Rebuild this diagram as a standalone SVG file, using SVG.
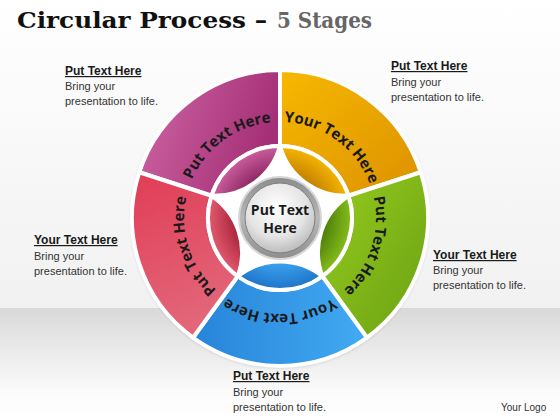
<svg xmlns="http://www.w3.org/2000/svg" width="560" height="420" viewBox="0 0 560 420">
  <defs>
    <style>
      .title { font-family: "DejaVu Serif", "Liberation Serif", serif; font-weight: bold; font-size: 23px; }
      .head { font-family: "Liberation Sans", Arial, sans-serif; font-weight: bold; font-size: 12px; fill: #1a1a1a; text-decoration: underline; }
      .body { font-family: "Liberation Sans", Arial, sans-serif; font-size: 11px; fill: #333333; }
      .lbl { font-family: "Open Sans", "Liberation Sans", sans-serif; font-weight: bold; font-size: 15px; fill: #1a1a1a; }
      .ctr { font-family: "Open Sans", "Liberation Sans", sans-serif; font-weight: bold; font-size: 14px; fill: #1a1a1a; }
      .wedge, .tab { stroke: #ffffff; stroke-width: 4; stroke-linejoin: round; }
    </style>
    <linearGradient id="bgTop" x1="0" y1="0" x2="0" y2="1">
      <stop offset="0" stop-color="#ffffff"/>
      <stop offset="1" stop-color="#f1f1f1"/>
    </linearGradient>
    <linearGradient id="bgBand" x1="0" y1="0" x2="0" y2="1">
      <stop offset="0" stop-color="#d9d9d9"/>
      <stop offset="0.75" stop-color="#fbfbfb"/>
      <stop offset="1" stop-color="#ffffff"/>
    </linearGradient>
    <linearGradient id="gMag" x1="0" y1="0" x2="1" y2="0.3">
      <stop offset="0" stop-color="#cf68a6"/>
      <stop offset="1" stop-color="#a52f76"/>
    </linearGradient>
    <linearGradient id="gYel" x1="0" y1="0" x2="1" y2="1">
      <stop offset="0" stop-color="#f7b800"/>
      <stop offset="1" stop-color="#dc9100"/>
    </linearGradient>
    <linearGradient id="gGrn" x1="0" y1="0" x2="1" y2="1">
      <stop offset="0" stop-color="#96cc1e"/>
      <stop offset="1" stop-color="#6aa012"/>
    </linearGradient>
    <linearGradient id="gBlu" x1="0" y1="0" x2="1" y2="0">
      <stop offset="0" stop-color="#2784d9"/>
      <stop offset="1" stop-color="#42aaf2"/>
    </linearGradient>
    <linearGradient id="gRed" x1="0" y1="0" x2="0.3" y2="1">
      <stop offset="0" stop-color="#e03d56"/>
      <stop offset="1" stop-color="#e36679"/>
    </linearGradient>
    <radialGradient id="tMag" gradientUnits="userSpaceOnUse" cx="280" cy="218" r="72">
      <stop offset="0.6" stop-color="#8a2560"/>
      <stop offset="1" stop-color="#cc5f9f"/>
    </radialGradient>
    <radialGradient id="tYel" gradientUnits="userSpaceOnUse" cx="280" cy="218" r="72">
      <stop offset="0.6" stop-color="#c07e00"/>
      <stop offset="1" stop-color="#f6b600"/>
    </radialGradient>
    <radialGradient id="tGrn" gradientUnits="userSpaceOnUse" cx="280" cy="218" r="72">
      <stop offset="0.6" stop-color="#4b7a0a"/>
      <stop offset="1" stop-color="#86bf1a"/>
    </radialGradient>
    <radialGradient id="tBlu" gradientUnits="userSpaceOnUse" cx="280" cy="218" r="72">
      <stop offset="0.6" stop-color="#3ba4f0"/>
      <stop offset="1" stop-color="#1f74c8"/>
    </radialGradient>
    <radialGradient id="tRed" gradientUnits="userSpaceOnUse" cx="280" cy="218" r="72">
      <stop offset="0.6" stop-color="#a8243a"/>
      <stop offset="1" stop-color="#e25a6f"/>
    </radialGradient>
    <radialGradient id="cInner" cx="0.45" cy="0.35" r="0.7">
      <stop offset="0" stop-color="#ffffff"/>
      <stop offset="0.6" stop-color="#e4e4e4"/>
      <stop offset="1" stop-color="#b4b4b4"/>
    </radialGradient>
    <linearGradient id="cRing" x1="0" y1="0" x2="0" y2="1">
      <stop offset="0" stop-color="#8c8c8c"/>
      <stop offset="0.5" stop-color="#b8b8b8"/>
      <stop offset="1" stop-color="#8e8e8e"/>
    </linearGradient>
    <filter id="shadow" x="-10%" y="-10%" width="120%" height="120%">
      <feDropShadow dx="0" dy="1" stdDeviation="1.5" flood-color="#000000" flood-opacity="0.18"/>
    </filter>
    <path id="pMag" d="M184.23,211.30 A96,96 0 0 1 303.22,124.85"/>
    <path id="pYel" d="M256.78,124.85 A96,96 0 0 1 375.77,211.30"/>
    <path id="pGrn" d="M361.41,167.13 A96,96 0 0 1 315.96,307.01"/>
    <path id="pBlu" d="M353.54,279.71 A96,96 0 0 1 206.46,279.71"/>
    <path id="pRed" d="M244.04,307.01 A96,96 0 0 1 198.59,167.13"/>
  </defs>

  <!-- background -->
  <rect x="0" y="0" width="560" height="308" fill="url(#bgTop)"/>
  <rect x="0" y="308" width="560" height="112" fill="url(#bgBand)"/>

  <!-- title -->
  <g id="title">
    <text class="title" x="17" y="28" fill="#111111" textLength="250" lengthAdjust="spacingAndGlyphs">Circular Process –</text>
    <text class="title" x="277" y="28" fill="#666666" textLength="95" lengthAdjust="spacingAndGlyphs">5 Stages</text>
  </g>

  <!-- wheel base -->
  <circle cx="280" cy="218" r="149" fill="#ffffff" filter="url(#shadow)"/>

  <g id="stage-magenta">
    <path class="wedge" fill="url(#gMag)" d="M139.24,172.27 A148,148 0 0 1 280,70 L280,146 A72,72 0 0 0 211.52,195.75 Z"/>
    <path class="tab" fill="url(#tMag)" d="M211.52,195.75 A72,72 0 0 1 280,146 A68,68 0 0 1 211.52,195.75 Z"/>
    <text class="lbl"><textPath href="#pMag" startOffset="50%" text-anchor="middle">Put Text Here</textPath></text>
  </g>

  <g id="stage-yellow">
    <path class="wedge" fill="url(#gYel)" d="M280,70 A148,148 0 0 1 420.76,172.27 L348.48,195.75 A72,72 0 0 0 280,146 Z"/>
    <path class="tab" fill="url(#tYel)" d="M280,146 A72,72 0 0 1 348.48,195.75 A68,68 0 0 1 280,146 Z"/>
    <text class="lbl"><textPath href="#pYel" startOffset="50%" text-anchor="middle">Your Text Here</textPath></text>
  </g>

  <g id="stage-green">
    <path class="wedge" fill="url(#gGrn)" d="M420.76,172.27 A148,148 0 0 1 366.99,337.73 L322.32,276.25 A72,72 0 0 0 348.48,195.75 Z"/>
    <path class="tab" fill="url(#tGrn)" d="M348.48,195.75 A72,72 0 0 1 322.32,276.25 A68,68 0 0 1 348.48,195.75 Z"/>
    <text class="lbl"><textPath href="#pGrn" startOffset="50%" text-anchor="middle">Put Text Here</textPath></text>
  </g>

  <g id="stage-blue">
    <path class="wedge" fill="url(#gBlu)" d="M366.99,337.73 A148,148 0 0 1 193.01,337.73 L237.68,276.25 A72,72 0 0 0 322.32,276.25 Z"/>
    <path class="tab" fill="url(#tBlu)" d="M322.32,276.25 A72,72 0 0 1 237.68,276.25 A68,68 0 0 1 322.32,276.25 Z"/>
    <text class="lbl"><textPath href="#pBlu" startOffset="50%" text-anchor="middle">Your Text Here</textPath></text>
  </g>

  <g id="stage-red">
    <path class="wedge" fill="url(#gRed)" d="M193.01,337.73 A148,148 0 0 1 139.24,172.27 L211.52,195.75 A72,72 0 0 0 237.68,276.25 Z"/>
    <path class="tab" fill="url(#tRed)" d="M237.68,276.25 A72,72 0 0 1 211.52,195.75 A68,68 0 0 1 237.68,276.25 Z"/>
    <text class="lbl"><textPath href="#pRed" startOffset="50%" text-anchor="middle">Put Text Here</textPath></text>
  </g>

  <g id="center">
    <circle cx="280" cy="218" r="41" fill="url(#cRing)" stroke="#d6d6d6" stroke-width="2"/>
    <circle cx="280" cy="218" r="35" fill="url(#cInner)" stroke="#7e7e7e" stroke-width="1"/>
    <text class="ctr" x="280" y="215" text-anchor="middle">Put Text</text>
    <text class="ctr" x="280" y="233" text-anchor="middle">Here</text>
  </g>

  <g id="connectors"/>

  <g id="note-top-left">
    <text class="head" x="65" y="75">Put Text Here</text>
    <text class="body" x="65" y="90">Bring your</text>
    <text class="body" x="65" y="105">presentation to life.</text>
  </g>
  <g id="note-top-right">
    <text class="head" x="391" y="70">Put Text Here</text>
    <text class="body" x="391" y="86">Bring your</text>
    <text class="body" x="391" y="101">presentation to life.</text>
  </g>
  <g id="note-left">
    <text class="head" x="34" y="244">Your Text Here</text>
    <text class="body" x="34" y="260">Bring your</text>
    <text class="body" x="34" y="275">presentation to life.</text>
  </g>
  <g id="note-right">
    <text class="head" x="433" y="259">Your Text Here</text>
    <text class="body" x="433" y="274">Bring your</text>
    <text class="body" x="433" y="289">presentation to life.</text>
  </g>
  <g id="note-bottom">
    <text class="head" x="233" y="380">Put Text Here</text>
    <text class="body" x="233" y="396">Bring your</text>
    <text class="body" x="233" y="411">presentation to life.</text>
  </g>

  <text x="501" y="411" font-family="Liberation Sans, Arial, sans-serif" font-size="10" fill="#333333">Your Logo</text>
</svg>
